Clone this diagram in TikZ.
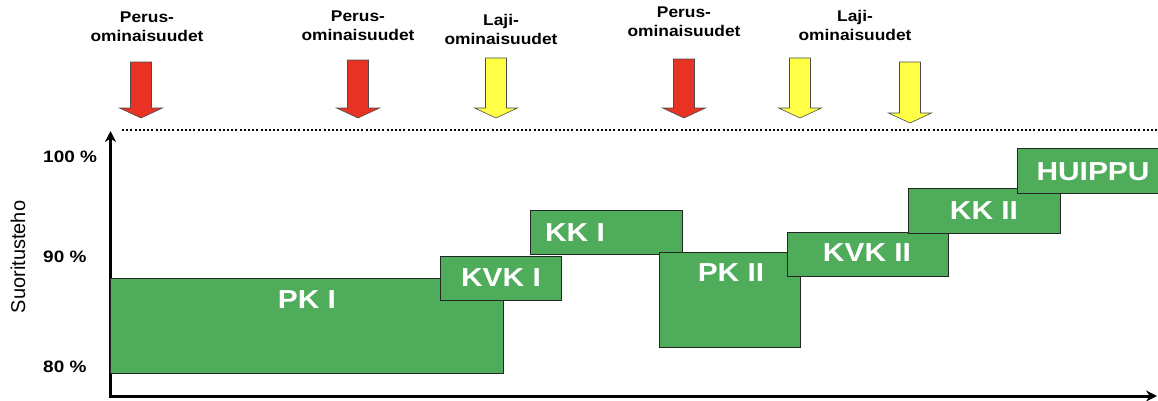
\documentclass[tikz,border=0pt]{standalone}
\usepackage{fontspec}
\setmainfont{Liberation Sans}
\usetikzlibrary{arrows.meta}
\definecolor{vihrea}{RGB}{78,172,90}
\definecolor{punainen}{RGB}{232,50,36}
\definecolor{keltainen}{RGB}{255,255,70}
\begin{document}
\begin{tikzpicture}[x=1pt, y=-1pt]
        \tikzstyle{vaihe}=[draw=black!85, line width=0.8pt, fill=vihrea, inner sep=0pt]
        \tikzstyle{nimi}=[text=white, inner sep=0pt, font=\fontsize{26}{26}\selectfont\bfseries, xscale=1.15]
        \tikzstyle{otsikko}=[inner sep=0pt, anchor=north, align=center, font=\fontsize{15.5}{19}\selectfont\bfseries, xscale=1.12]
        \tikzstyle{asteikko}=[inner sep=0pt, anchor=base west, font=\fontsize{16.5}{18}\selectfont\bfseries, xscale=1.15]
        \useasboundingbox (0,0) rectangle (1158,400);

        % Otsikot ja nuolet
        \node[otsikko] (o1) at (147,12) {Perus-\\ominaisuudet};
        \node[otsikko] (o2) at (358,10.5) {Perus-\\ominaisuudet};
        \node[otsikko] (o3) at (501,14) {Laji-\\ominaisuudet};
        \node[otsikko] (o4) at (684,7) {Perus-\\ominaisuudet};
        \node[otsikko] (o5) at (855,10) {Laji-\\ominaisuudet};
        \foreach \x/\ylin/\ykarki/\vari in {141/62/118/punainen, 358/60/118/punainen, 684/59/118/punainen, 496/58/118/keltainen, 800/58/118/keltainen, 910/62/123/keltainen}
          \filldraw[draw=black!70, line width=0.6pt, fill=\vari] (\x-10.5,\ylin) -- ++(21,0) -- (\x+10.5,\ykarki-10) -- (\x+21.5,\ykarki-10) -- (\x,\ykarki) -- (\x-21.5,\ykarki-10) -- (\x-10.5,\ykarki-10) -- cycle;

        % Akselit
        \coordinate (ykarki) at (110.5,131);
        \coordinate (xloppu) at (1157,396);
        \coordinate (katko-a) at (122,130);
        \coordinate (katko-b) at (1158,130);
        \draw[line width=2pt, dash pattern=on 2pt off 2.2pt] (katko-a) -- (katko-b);
        \draw[line width=3pt, {Stealth[length=11pt,width=11pt]}-{Stealth[length=11pt,width=11pt]}] (ykarki) |- (xloppu);
        \node[rotate=90, inner sep=0pt, font=\fontsize{20}{20}\selectfont] (akseli) at (18,257) {Suoritusteho};
        \node[asteikko] (s100) at (43,162) {100 \%};
        \node[asteikko] (s90) at (43,262) {90 \%};
        \node[asteikko] (s80) at (43,372) {80 \%};

        % Vaiheet
        \node[vaihe, minimum width=393pt, minimum height=95pt] (pk1) at (306.5,325.5) {};
        \node[nimi] (pk1-n) at (307,300) {PK I};
        \node[vaihe, minimum width=121pt, minimum height=44pt] (kvk1) at (501,278) {};
        \node[nimi] (kvk1-n) at (501,278) {KVK I};
        \node[vaihe, minimum width=152pt, minimum height=44pt] (kk1) at (606,232) {};
        \node[nimi] (kk1-n) at (575,233) {KK I};
        \node[vaihe, minimum width=141pt, minimum height=95pt] (pk2) at (729.5,299.5) {};
        \node[nimi] (pk2-n) at (731,273) {PK II};
        \node[vaihe, minimum width=161pt, minimum height=44pt] (kvk2) at (867.5,254) {};
        \node[nimi] (kvk2-n) at (867,253) {KVK II};
        \node[vaihe, minimum width=152pt, minimum height=45pt] (kk2) at (984,210.5) {};
        \node[nimi] (kk2-n) at (984,211) {KK II};
        \node[vaihe, minimum width=153pt, minimum height=45pt] (huippu) at (1093.5,170.5) {};
        \node[nimi] (huippu-n) at (1093,172) {HUIPPU};
    \end{tikzpicture}
\end{document}
